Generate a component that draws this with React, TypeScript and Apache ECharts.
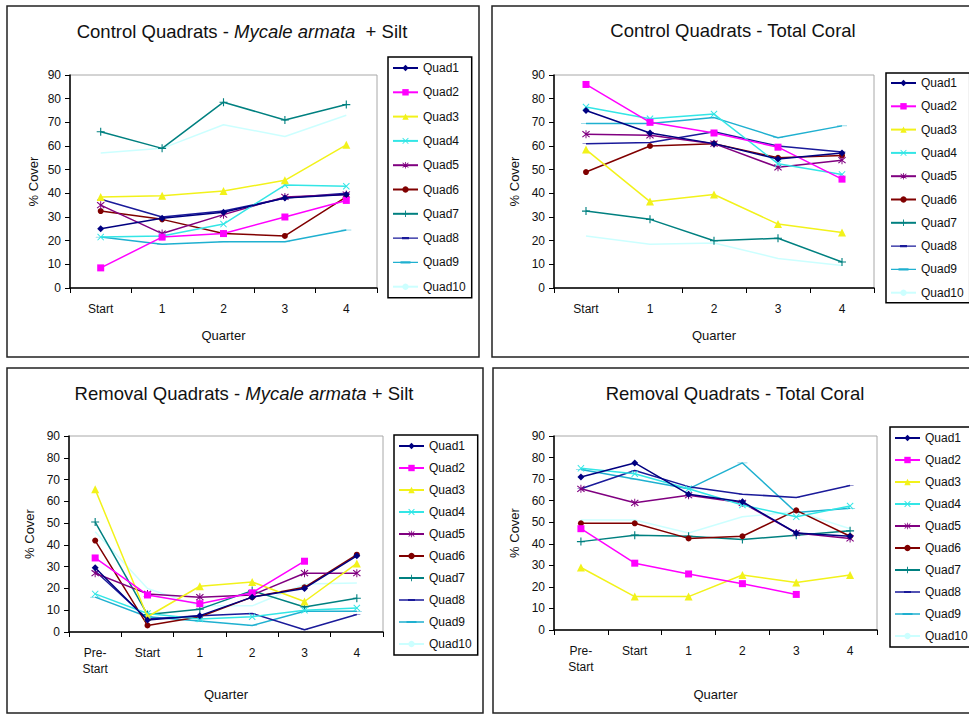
import React, { useEffect, useRef } from "react";
import * as echarts from "echarts";

const FONT = '"Liberation Sans", Arial, Helvetica, sans-serif';

const names = ["Quad1", "Quad2", "Quad3", "Quad4", "Quad5", "Quad6", "Quad7", "Quad8", "Quad9", "Quad10"];

const controlCats = ["Start", "1", "2", "3", "4"];
const removalCats = ["Pre-\nStart", "Start", "1", "2", "3", "4"];

// Control Quadrats - Mycale armata + Silt
const controlMycale: (number | null)[][] = [
  [25, 29.5, 32, 38, 39.5],
  [8.5, 21.5, 23, 30, 37],
  [38.5, 39, 41, 45.5, 60.5],
  [21.5, 22, 27, 43.5, 43],
  [35, 23, 31, 38.5, 39.5],
  [32.5, 29, 23, 22, 38.5],
  [66, 59, 78.5, 71, 77.5],
  [37.5, 30, 32.5, 38, 40],
  [21.5, 18.5, 19.5, 19.5, 24.5],
  [57, 59, 69, 64, 73],
];

// Control Quadrats - Total Coral
const controlCoral: (number | null)[][] = [
  [75, 65.5, 61, 54.5, 57],
  [86, 70, 65.5, 59.5, 46],
  [58.5, 36.5, 39.5, 27, 23.5],
  [76.5, 71.5, 73.5, 52.5, 48],
  [65, 64.5, 61, 51, 54],
  [49, 60, 61, 55, 56],
  [32.5, 29, 20, 21, 11],
  [61, 61.5, 66, 60, 57.5],
  [69.5, 69.5, 72, 63.5, 68.5],
  [22, 18.5, 19, 12.5, 9.5],
];

// Removal Quadrats - Mycale armata + Silt
const removalMycale: (number | null)[][] = [
  [29.5, 5.5, 7.5, 16, 20, 35],
  [34, 17, 13, 18, 32.5, null],
  [65.5, 7, 21, 23, 14, 31.5],
  [17.5, 8.5, 6, 7, 10, 11],
  [27, 17.5, 16, 17, 27, 27],
  [42, 3, 7, 16, 20.5, 35.5],
  [50.5, 8, 10.5, 19, 11.5, 15.5],
  [28, 6, 7.5, 8.5, 1, 8],
  [16, 7, 5, 3, 9.5, 9.5],
  [46, 20, 12, 12, 22, 22.5],
];

// Removal Quadrats - Total Coral
const removalCoral: (number | null)[][] = [
  [71, 77.5, 63, 59.5, 45, 43.5],
  [47, 31, 26, 21.5, 16.5, null],
  [29, 15.5, 15.5, 25.5, 22, 25.5],
  [75, 72.5, 65.5, 58, 52.5, 57.5],
  [65.5, 59, 62.5, 59, 45, 42.5],
  [49.5, 49.5, 42.5, 43.5, 55.5, 43.5],
  [41, 44, 43.5, 42, 44, 46],
  [65.5, 74, 66.5, 63, 61.5, 67],
  [74.5, 70, 65.5, 77.5, 54.5, 56.5],
  [51, 51, 45, 52.5, 55, 47],
];

const colors = ["#000080", "#ff00ff", "#f2f21a", "#33e6e6", "#800080", "#800000", "#008080", "#1a1a9a", "#1fb0d0", "#ccffff"];

const X_PATH = "path://M0,1L1,0L5,4L9,0L10,1L6,5L10,9L9,10L5,6L1,10L0,9L4,5Z";
const STAR_PATH = "path://M0,1L1,0L5,4L9,0L10,1L6,5L10,9L9,10L5,6L1,10L0,9L4,5Z M4.4,-1L5.6,-1L5.6,11L4.4,11Z";
const PLUS_PATH = "path://M4.3,0L5.7,0L5.7,4.3L10,4.3L10,5.7L5.7,5.7L5.7,10L4.3,10L4.3,5.7L0,5.7L0,4.3L4.3,4.3Z";
const DASH_PATH = "path://M0,0L10,0L10,2.2L0,2.2Z";

// legend icons (line + dash marker) for the two dash-marker series, drawn in a 25x8 box
const EXTENT = "M0,0L0.01,0L0,0.01Z M24.99,8L25,8L25,7.99Z ";
const LEG_DASH_SHORT = "path://" + EXTENT + "M0,3.3L25,3.3L25,4.7L0,4.7Z M9,2.9L16,2.9L16,5.1L9,5.1Z";
const LEG_DASH_LONG = "path://" + EXTENT + "M0,3.3L25,3.3L25,4.7L0,4.7Z M7.5,2.9L17.5,2.9L17.5,5.1L7.5,5.1Z";

const symbols: any[] = ["diamond", "rect", "triangle", X_PATH, STAR_PATH, "circle", PLUS_PATH, DASH_PATH, DASH_PATH, "none"];
const symbolSizes: any[] = [7, 7, 8, 7, 8, 6, 8, [7, 2], [10, 2], 4];

const panels = [
  { data: controlMycale, cats: controlCats, grid: { left: 70, top: 75, width: 307, height: 213 }, legend: { left: 388, top: 57, gap: 10.3, pad: [4, 6, 4, 4] }, nameGapX: 41, nameGapY: 30, title: { x: 242, y: 31, pre: "Control Quadrats - ", it: "Mycale armata", post: "  + Silt" } },
  { data: controlCoral, cats: controlCats, grid: { left: 554, top: 75, width: 320, height: 213 }, legend: { left: 886, top: 73, gap: 9.3, pad: [3, 6, 3, 4] }, nameGapX: 41, nameGapY: 33, title: { x: 733, y: 30, pre: "Control Quadrats - Total Coral", it: "", post: "" } },
  { data: removalMycale, cats: removalCats, grid: { left: 69, top: 436, width: 314, height: 196 }, legend: { left: 394, top: 435, gap: 8, pad: [4, 6, 4, 4] }, nameGapX: 56, nameGapY: 33, title: { x: 244, y: 393, pre: "Removal Quadrats - ", it: "Mycale armata", post: " + Silt" } },
  { data: removalCoral, cats: removalCats, grid: { left: 554, top: 436, width: 323, height: 194 }, legend: { left: 890, top: 427, gap: 8, pad: [4, 6, 4, 4] }, nameGapX: 58, nameGapY: 33, title: { x: 735, y: 393, pre: "Removal Quadrats - Total Coral", it: "", post: "" } },
];

const panelBoxes = [
  { x: 7, y: 6, w: 472, h: 351 },
  { x: 492, y: 6, w: 500, h: 351 },
  { x: 7, y: 368, w: 476, h: 345 },
  { x: 493, y: 368, w: 500, h: 345 },
];

function buildOption() {
  const grid: any[] = [];
  const xAxis: any[] = [];
  const yAxis: any[] = [];
  const legend: any[] = [];
  const series: any[] = [];
  const graphic: any[] = [];

  const legendData = names.map((n, i) => {
    if (i === 7) return { name: n, icon: LEG_DASH_SHORT };
    if (i === 8) return { name: n, icon: LEG_DASH_LONG };
    return { name: n };
  });

  panelBoxes.forEach((b) => {
    graphic.push({
      type: "rect",
      shape: { x: b.x, y: b.y, width: b.w, height: b.h },
      style: { fill: "none", stroke: "#222", lineWidth: 1.5 },
      silent: true,
      z: -1,
    });
  });

  panels.forEach((p, gi) => {
    grid.push({ ...p.grid, show: true, borderColor: "#a8a8a8", borderWidth: 1, backgroundColor: "#fff" });
    xAxis.push({
      type: "category",
      gridIndex: gi,
      data: p.cats,
      boundaryGap: true,
      name: "Quarter",
      nameLocation: "middle",
      nameGap: p.nameGapX,
      nameTextStyle: { fontSize: 13, fontFamily: FONT, color: "#111" },
      axisLine: { show: true, lineStyle: { color: "#000", width: 1.5 } },
      axisTick: { show: true, length: 5, interval: 0, lineStyle: { color: "#000" } },
      axisLabel: { fontSize: 12, fontFamily: FONT, color: "#111", margin: 13, interval: 0, lineHeight: 16 },
      splitLine: { show: false },
    });
    yAxis.push({
      type: "value",
      gridIndex: gi,
      min: 0,
      max: 90,
      interval: 10,
      name: "% Cover",
      nameLocation: "middle",
      nameGap: p.nameGapY,
      nameTextStyle: { fontSize: 13, fontFamily: FONT, color: "#111" },
      axisLine: { show: true, lineStyle: { color: "#000", width: 1.5 } },
      axisTick: { show: true, length: 5, lineStyle: { color: "#000" } },
      axisLabel: { fontSize: 12, fontFamily: FONT, color: "#111", margin: 9 },
      splitLine: { show: false },
    });
    legend.push({
      orient: "vertical",
      left: p.legend.left,
      top: p.legend.top,
      itemGap: p.legend.gap,
      itemWidth: 25,
      itemHeight: 8,
      padding: p.legend.pad,
      borderColor: "#000",
      borderWidth: 1.5,
      backgroundColor: "#fff",
      selectedMode: false,
      data: legendData,
      textStyle: { fontSize: 12, fontFamily: FONT, color: "#111", lineHeight: 14 },
    });
    names.forEach((n, si) => {
      series.push({
        type: "line",
        name: n,
        xAxisIndex: gi,
        yAxisIndex: gi,
        data: p.data[si],
        symbol: symbols[si],
        symbolSize: symbolSizes[si],
        symbolKeepAspect: si === 7 || si === 8,
        showSymbol: si !== 9,
        color: colors[si],
        lineStyle: { color: colors[si], width: 1.5 },
        itemStyle: { color: colors[si] },
        connectNulls: false,
        z: 2 + (9 - si) * 0.01,
      });
    });
    const t = p.title;
    const text = t.it ? `{n|${t.pre}}{i|${t.it}}{n|${t.post}}` : `{n|${t.pre}}`;
    graphic.push({
      type: "text",
      x: t.x,
      y: t.y,
      silent: true,
      style: {
        text,
        align: "center",
        verticalAlign: "middle",
        fill: "#111",
        rich: {
          n: { fontSize: 18.5, fontFamily: FONT, fill: "#111" },
          i: { fontSize: 18.5, fontFamily: FONT, fontStyle: "italic", fill: "#111" },
        },
      },
    });
  });

  return {
    animation: false,
    backgroundColor: "#fff",
    grid,
    xAxis,
    yAxis,
    legend,
    series,
    graphic,
  };
}

export default function App() {
  const ref = useRef<HTMLDivElement>(null);
  useEffect(() => {
    if (!ref.current) return;
    const chart = echarts.init(ref.current, undefined, { renderer: "svg" });
    chart.setOption(buildOption() as any);
    return () => chart.dispose();
  }, []);
  return (
    <div
      ref={ref}
      style={{ position: "fixed", left: 0, top: 0, width: 1000, height: 715, background: "#fff" }}
    />
  );
}
